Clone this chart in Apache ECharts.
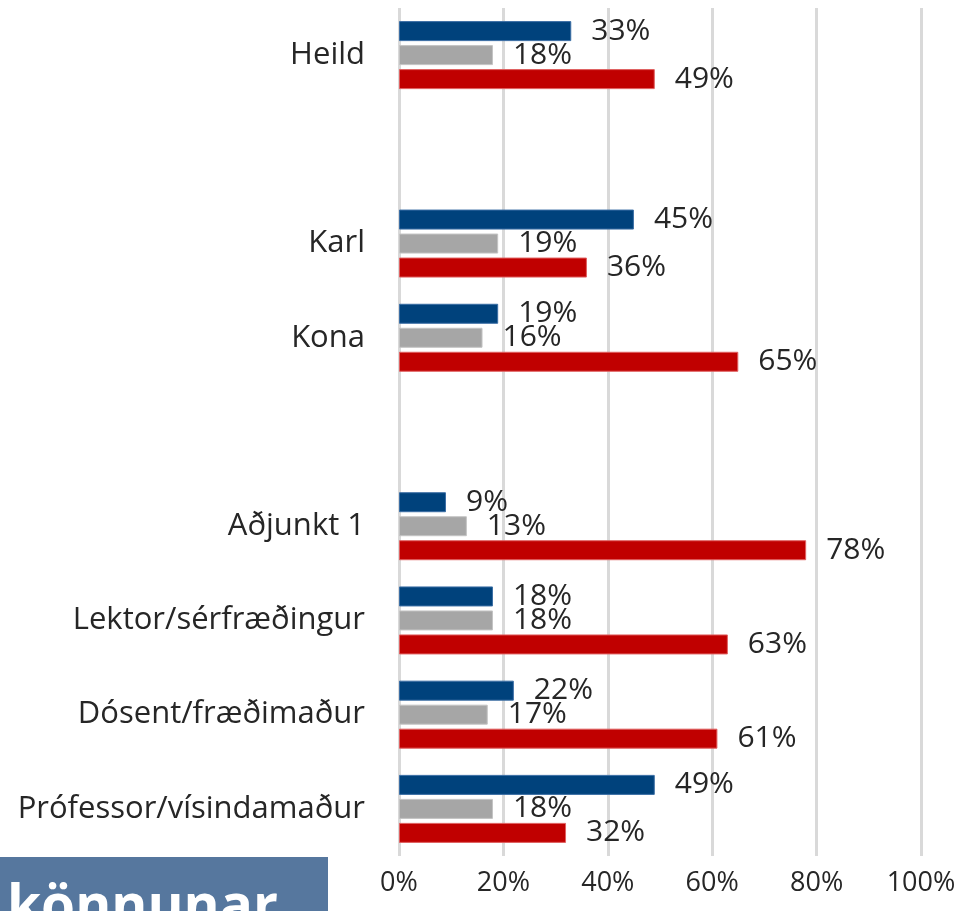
<!DOCTYPE html>
<html>
<head>
<meta charset="utf-8">
<style>
  html, body { margin: 0; padding: 0; background: #fff; }
  #chart { width: 963px; height: 911px; }
</style>
<script src="https://cdn.jsdelivr.net/npm/echarts@6/dist/echarts.min.js"></script>
</head>
<body>
<div id="chart"></div>
<script>
// flokkar, tómir strengir eru bil á milli hópa
const categories = ['Heild', '', 'Karl', 'Kona', '', 'Aðjunkt 1', 'Lektor/sérfræðingur', 'Dósent/fræðimaður', 'Prófessor/vísindamaður']
const blueValues = [33, null, 45, 19, null, 9, 18, 22, 49]
const grayValues = [18, null, 19, 16, null, 13, 18, 17, 18]
const redValues = [49, null, 36, 65, null, 78, 63, 61, 32]
const xTicks = [0, 20, 40, 60, 80, 100]

const fontFamily = '"Open Sans", "Noto Sans", sans-serif'

const chart = echarts.init(document.getElementById('chart'))

function barSeries(name, data, color, border) {
  return {
    name: name,
    type: 'bar',
    data: data,
    barWidth: 20,
    barGap: '20%',
    itemStyle: { color: color, borderColor: border, borderWidth: 1 },
    label: {
      show: true,
      position: 'right',
      distance: 20,
      formatter: p => p.value + '%',
      color: '#262626',
      fontSize: 30,
      fontFamily: fontFamily
    },
    animation: false
  }
}

chart.setOption({
  grid: {
    top: 8,
    bottom: 55,
    left: 399,
    right: 42
  },
  xAxis: {
    type: 'value',
    min: xTicks[0],
    max: xTicks[xTicks.length - 1],
    interval: 20,
    axisLine: { show: false },
    axisTick: { show: false },
    axisLabel: {
      formatter: '{value}%',
      color: '#262626',
      fontSize: 27,
      fontFamily: fontFamily,
      margin: 14
    },
    splitLine: {
      show: true,
      lineStyle: { color: '#d9d9d9', width: 3 }
    }
  },
  yAxis: {
    type: 'category',
    inverse: true,
    data: categories,
    axisLine: { show: false },
    axisTick: { show: false },
    axisLabel: {
      color: '#262626',
      fontSize: 31,
      fontFamily: fontFamily,
      margin: 34
    }
  },
  series: [
    barSeries('blue', blueValues, '#00427c', '#3a6ea5'),
    barSeries('gray', grayValues, '#a6a6a6', '#c4c4c4'),
    barSeries('red', redValues, '#c00000', '#e06060')
  ],
  graphic: [
    {
      type: 'rect',
      left: 0,
      top: 857,
      shape: { width: 328, height: 60 },
      style: { fill: '#56779e' },
      silent: true
    },
    {
      type: 'text',
      left: 7,
      top: 881,
      style: {
        text: 'könnunar',
        fill: '#ffffff',
        font: 'bold 55px "Open Sans", sans-serif'
      },
      silent: true
    }
  ]
})
</script>
</body>
</html>
